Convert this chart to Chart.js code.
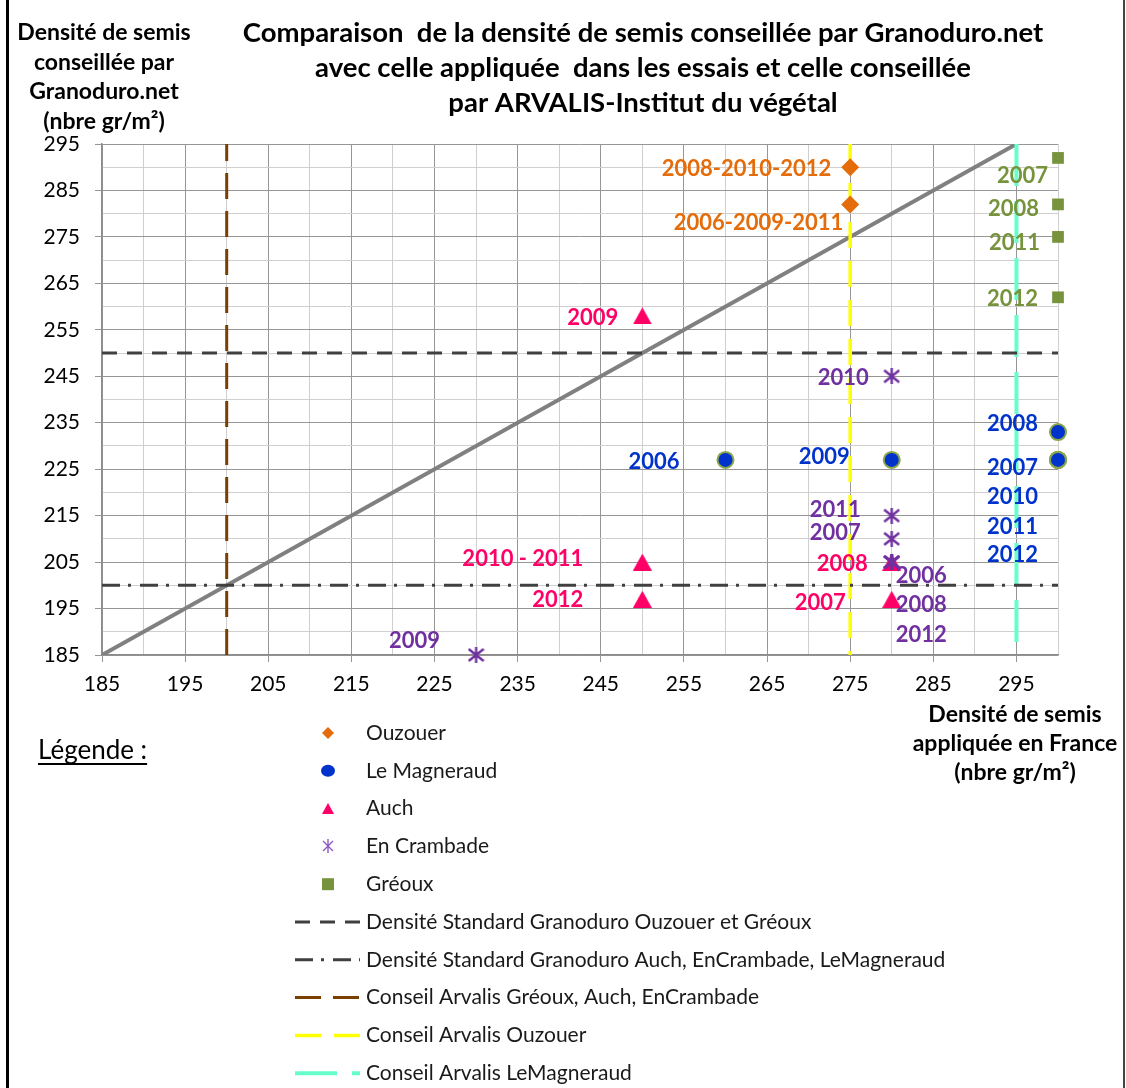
<!DOCTYPE html>
<html lang="fr">
<head>
<meta charset="utf-8">
<title>Densité de semis Granoduro.net / ARVALIS</title>
<script src="https://cdn.jsdelivr.net/npm/chart.js@4.4.1/dist/chart.umd.min.js"></script>
<style>
  html, body { margin: 0; padding: 0; background: #fff; }
  #wrap { position: relative; width: 1126px; height: 1088px; }
</style>
</head>
<body>
<div id="wrap"><canvas id="chart" width="1126" height="1088"></canvas></div>
<script>
// ===== Axes =====
const xMin = 185, xMax = 300, yMin = 185, yMax = 295;
const xTickLabels = [185, 195, 205, 215, 225, 235, 245, 255, 265, 275, 285, 295];
const yTickLabels = [185, 195, 205, 215, 225, 235, 245, 255, 265, 275, 285, 295];

// ===== Essais (x = densité appliquée, y = densité Granoduro.net) =====
const ouzouerX = [275, 275];
const ouzouerY = [290, 282];
const ouzouerYears = ['2008-2010-2012', '2006-2009-2011'];

const magneraudX = [260, 280, 300, 300, 300, 300, 300];
const magneraudY = [227, 227, 233, 227, 227, 227, 227];
const magneraudYears = ['2006', '2009', '2008', '2007', '2010', '2011', '2012'];

const auchX = [250, 250, 250, 280, 280];
const auchY = [258, 205, 197, 205, 197];
const auchYears = ['2009', '2010 - 2011', '2012', '2008', '2007'];

const crambadeX = [230, 280, 280, 280, 280, 280, 280];
const crambadeY = [185, 245, 215, 210, 205, 205, 205];
const crambadeYears = ['2009', '2010', '2011', '2007', '2006', '2008', '2012'];

const greouxX = [300, 300, 300, 300];
const greouxY = [292, 282, 275, 262];
const greouxYears = ['2007', '2008', '2011', '2012'];

// ===== Références =====
const standardOuzouerGreoux = 250;      // horizontale
const standardAuchCrambadeMagneraud = 200; // horizontale
const arvalisGreouxAuchCrambade = 200;  // verticale
const arvalisOuzouer = 275;             // verticale
const arvalisMagneraud = 295;           // verticale
const diagonalX = [185, 295];
const diagonalY = [185, 295];

// ===== Textes =====
const titleLines = [
  'Comparaison  de la densité de semis conseillée par Granoduro.net',
  'avec celle appliquée  dans les essais et celle conseillée',
  'par ARVALIS-Institut du végétal'
];
const yTitleLines = ['Densité de semis', 'conseillée par', 'Granoduro.net', '(nbre gr/m²)'];
const xTitleLines = ['Densité de semis', 'appliquée en France', '(nbre gr/m²)'];

// décalage des étiquettes [dx, dy, align] (px)
const ouzouerLabelPos   = [[-19, 1, 'right'], [-7, 18, 'right']];
const magneraudLabelPos = [[-46, 1, 'right'], [-42, -4, 'right'], [-20, -9, 'right'], [-20, 7, 'right'],
                           [-20, 36, 'right'], [-20, 66, 'right'], [-20, 94, 'right']];
const auchLabelPos      = [[-24, 1, 'right'], [-59, -4, 'right'], [-59, 0, 'right'], [-24, 1, 'right'], [-46, 3, 'right']];
const crambadeLabelPos  = [[-36, -15, 'right'], [-23, 1, 'right'], [-31, -7, 'right'], [-31, -7, 'right'],
                           [4, 13, 'left'], [4, 42, 'left'], [4, 72, 'left']];
const greouxLabelPos    = [[-10, 17, 'right'], [-19, 4, 'right'], [-18, 5, 'right'], [-20, 1, 'right']];

// ===== Helpers =====
const pointsOf = (xs, ys) => xs.map((x, i) => ({ x, y: ys[i] }));
const hLine = (y) => [{ x: xMin, y }, { x: xMax, y }];
const vLine = (x) => [{ x, y: yMax }, { x, y: yMin }];

function makeTriangle(w, h, color) {
  const c = document.createElement('canvas');
  c.width = w; c.height = h;
  const g = c.getContext('2d');
  g.fillStyle = color;
  g.beginPath(); g.moveTo(w / 2, 0); g.lineTo(w, h); g.lineTo(0, h); g.closePath(); g.fill();
  return c;
}
function makeAsterisk(w, h, color, lw) {
  const c = document.createElement('canvas');
  c.width = w; c.height = h;
  const g = c.getContext('2d');
  g.strokeStyle = color; g.lineWidth = lw;
  g.beginPath();
  g.moveTo(w / 2, 0); g.lineTo(w / 2, h);
  g.moveTo(1, 2); g.lineTo(w - 1, h - 2);
  g.moveTo(w - 1, 2); g.lineTo(1, h - 2);
  g.stroke();
  return c;
}

const auchMarker = makeTriangle(19, 17, '#FF0066');
const auchLegendMarker = makeTriangle(12, 11, '#FF0066');
const crambadeMarker = makeAsterisk(17, 16, '#7030A0', 2.4);
const crambadeLegendMarker = makeAsterisk(12, 14, '#8E5CC6', 1.4);

// ===== Plugins =====
const yearLabels = {
  id: 'yearLabels',
  afterDatasetsDraw(chart) {
    const ctx = chart.ctx;
    chart.data.datasets.forEach((ds, i) => {
      if (!ds.years) return;
      const meta = chart.getDatasetMeta(i);
      ctx.save();
      ctx.font = 'bold 22px Lato';
      ctx.fillStyle = ds.labelColor;
      ctx.textBaseline = 'alphabetic';
      meta.data.forEach((pt, j) => {
        const [dx, dy, align] = ds.labelPos[j];
        ctx.textAlign = align;
        ctx.fillText(ds.years[j], pt.x + dx, pt.y + dy + 8);
      });
      ctx.restore();
    });
  }
};

function drawLegendMarker(ctx, ds, x, y) {
  ctx.save();
  if (ds.legendStyle) {
    const m = ds.legendStyle;
    ctx.drawImage(m, Math.round(x - m.width / 2), Math.round(y - m.height / 2));
  } else if (ds.showLine) {
    ctx.strokeStyle = ds.borderColor;
    ctx.lineWidth = ds.borderWidth;
    ctx.setLineDash(ds.borderDash || []);
    ctx.beginPath(); ctx.moveTo(295, y); ctx.lineTo(360, y); ctx.stroke();
  } else {
    const r = ds.legendRadius;
    ctx.fillStyle = ds.backgroundColor;
    ctx.beginPath();
    if (ds.pointStyle === 'rectRot') {
      ctx.moveTo(x, y - r); ctx.lineTo(x + r, y); ctx.lineTo(x, y + r); ctx.lineTo(x - r, y); ctx.closePath();
    } else if (ds.pointStyle === 'circle') {
      ctx.ellipse(x, y, r, r * 0.85, 0, 0, Math.PI * 2);
    } else {
      ctx.rect(x - r, y - r, 2 * r, 2 * r);
    }
    ctx.fill();
  }
  ctx.restore();
}

const decorations = {
  id: 'decorations',
  afterDraw(chart) {
    const ctx = chart.ctx;
    ctx.save();
    // cadre
    ctx.fillStyle = '#000';
    ctx.fillRect(6, 0, 3, 1088);
    ctx.fillStyle = '#444';
    ctx.fillRect(1123, 0, 2, 1088);

    ctx.fillStyle = '#000';
    ctx.textAlign = 'center';
    ctx.textBaseline = 'middle';
    ctx.font = 'bold 27.5px Lato';
    titleLines.forEach((t, i) => ctx.fillText(t, 643, 33 + i * 35));
    ctx.font = 'bold 23px Lato';
    yTitleLines.forEach((t, i) => ctx.fillText(t, 104, 33 + i * 29.5));
    xTitleLines.forEach((t, i) => ctx.fillText(t, 1015, 715 + i * 28.7));

    // légende
    ctx.textAlign = 'left';
    ctx.font = '26px Lato';
    ctx.fillText('Légende :', 38, 751);
    const w = ctx.measureText('Légende :').width;
    ctx.fillRect(38, 763, w, 2);

    ctx.font = '21px Lato';
    let row = 0;
    chart.data.datasets.forEach((ds) => {
      if (ds.inLegend === false) return;
      const y = 733 + row * 37.8;
      drawLegendMarker(ctx, ds, 328, y);
      ctx.fillStyle = '#1a1a1a';
      ctx.fillText(ds.label, 366, y);
      row++;
    });
    ctx.restore();
  }
};

// ===== Chart =====
Chart.defaults.font.family = 'Lato';
Chart.defaults.font.size = 21;
Chart.defaults.color = '#000';

const majorGrid = '#969696', minorGrid = '#CFCFCF';

function gridTicks(scale, min, max) {
  const ticks = [];
  for (let v = min; v <= max; v += 5) ticks.push({ value: v });
  scale.ticks = ticks;
}

const lineBase = { showLine: true, pointRadius: 0, fill: false, borderCapStyle: 'butt', order: 5 };

new Chart(document.getElementById('chart'), {
  type: 'scatter',
  data: {
    datasets: [
      { label: 'Ouzouer', data: pointsOf(ouzouerX, ouzouerY), pointStyle: 'rectRot', pointRadius: 9,
        backgroundColor: '#E46C0A', borderColor: '#E46C0A', borderWidth: 0, legendRadius: 6,
        years: ouzouerYears, labelPos: ouzouerLabelPos, labelColor: '#E46C0A', order: 1, clip: false },
      { label: 'Le Magneraud', data: pointsOf(magneraudX, magneraudY), pointStyle: 'circle', pointRadius: 8,
        backgroundColor: '#0033CC', borderColor: '#8AA64A', borderWidth: 2, legendRadius: 7,
        years: magneraudYears, labelPos: magneraudLabelPos, labelColor: '#0033CC', order: 1, clip: false },
      { label: 'Auch', data: pointsOf(auchX, auchY), pointStyle: auchMarker, pointRadius: 9,
        backgroundColor: '#FF0066', borderColor: '#FF0066', legendStyle: auchLegendMarker,
        years: auchYears, labelPos: auchLabelPos, labelColor: '#FF0066', order: 2, clip: false },
      { label: 'En Crambade', data: pointsOf(crambadeX, crambadeY), pointStyle: crambadeMarker, pointRadius: 9,
        backgroundColor: '#7030A0', borderColor: '#7030A0', legendStyle: crambadeLegendMarker,
        years: crambadeYears, labelPos: crambadeLabelPos, labelColor: '#7030A0', order: 1, clip: false },
      { label: 'Gréoux', data: pointsOf(greouxX, greouxY), pointStyle: 'rect', pointRadius: 8.3,
        backgroundColor: '#77933C', borderColor: '#77933C', borderWidth: 0, legendRadius: 6,
        years: greouxYears, labelPos: greouxLabelPos, labelColor: '#77933C', order: 1, clip: false },
      { ...lineBase, label: 'Densité Standard Granoduro Ouzouer et Gréoux', data: hLine(standardOuzouerGreoux),
        borderColor: '#404040', borderWidth: 3, borderDash: [15, 10] },
      { ...lineBase, label: 'Densité Standard Granoduro Auch, EnCrambade, LeMagneraud', data: hLine(standardAuchCrambadeMagneraud),
        borderColor: '#404040', borderWidth: 3, borderDash: [18, 8, 3, 9] },
      { ...lineBase, label: 'Conseil Arvalis Gréoux, Auch, EnCrambade', data: vLine(arvalisGreouxAuchCrambade),
        borderColor: '#7B3F00', borderWidth: 3, borderDash: [26, 12], borderDashOffset: 9 },
      { ...lineBase, label: 'Conseil Arvalis Ouzouer', data: vLine(arvalisOuzouer),
        borderColor: '#FFFF00', borderWidth: 3.5, borderDash: [26, 13] },
      { ...lineBase, label: 'Conseil Arvalis LeMagneraud', data: vLine(arvalisMagneraud),
        borderColor: '#66FFCC', borderWidth: 4, borderDash: [42, 15] },
      { ...lineBase, label: 'Diagonale', data: pointsOf(diagonalX, diagonalY),
        borderColor: '#808080', borderWidth: 4, inLegend: false, order: 6 }
    ]
  },
  options: {
    responsive: false,
    animation: false,
    devicePixelRatio: 1,
    events: [],
    layout: { padding: { left: 0, top: 144, right: 68, bottom: 388 } },
    plugins: { legend: { display: false }, tooltip: { enabled: false } },
    scales: {
      x: {
        type: 'linear', min: xMin, max: xMax,
        afterBuildTicks: (s) => gridTicks(s, xMin, xMax),
        afterFit: (s) => { s.height = 45; },
        ticks: { autoSkip: false, maxRotation: 0, padding: 10,
                 callback: (v) => xTickLabels.includes(v) ? v : '' },
        grid: { tickLength: 7,
                color: (c) => xTickLabels.includes(c.tick.value) ? majorGrid : minorGrid,
                tickColor: (c) => xTickLabels.includes(c.tick.value) ? majorGrid : 'rgba(0,0,0,0)' },
        border: { color: '#8C8C8C', width: 1.5 }
      },
      y: {
        type: 'linear', min: yMin, max: yMax,
        afterBuildTicks: (s) => gridTicks(s, yMin, yMax),
        afterFit: (s) => { s.width = 102; },
        ticks: { autoSkip: false, padding: 15,
                 callback: (v) => yTickLabels.includes(v) ? v : '' },
        grid: { tickLength: 7,
                color: (c) => yTickLabels.includes(c.tick.value) ? majorGrid : minorGrid,
                tickColor: (c) => yTickLabels.includes(c.tick.value) ? majorGrid : 'rgba(0,0,0,0)' },
        border: { color: '#8C8C8C', width: 1.5 }
      }
    }
  },
  plugins: [yearLabels, decorations]
});
</script>
</body>
</html>
